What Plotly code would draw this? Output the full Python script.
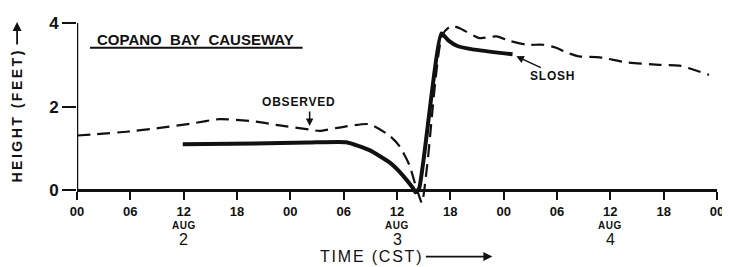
import plotly.graph_objects as go

# hours from Aug 2 00 CST
obs_t = [0, 5.6, 9.3, 13.0, 16.0, 19.8, 22.8, 26.2, 27.3, 29.5, 32.9, 35.2, 36.3, 37.4, 38.0, 38.4, 38.8,
         39.4, 41.1, 42.1, 43.0, 45.3, 47.2, 48.7, 50.6, 52.4, 53.9, 55.0, 56.5, 58.8, 61.8, 65.5, 67.8, 71.1]
obs_h = [1.31, 1.40, 1.49, 1.60, 1.70, 1.65, 1.55, 1.45, 1.42, 1.50, 1.58, 1.30, 1.05, 0.60, 0.18, -0.08, -0.30,
         0.60, 3.72, 3.93, 3.88, 3.64, 3.68, 3.57, 3.48, 3.48, 3.41, 3.30, 3.20, 3.18, 3.06, 3.00, 2.98, 2.76]

slosh_t = [11.9, 20, 26, 30.3, 32.9, 35.2, 36.6, 37.8, 38.1, 38.5, 41.0, 41.8, 42.8, 44.5, 49.0]
slosh_h = [1.10, 1.12, 1.14, 1.15, 0.96, 0.66, 0.37, 0.05, -0.05, 0.05, 3.75, 3.58, 3.45, 3.37, 3.25]

tick_vals = list(range(0, 73, 6))
tick_text = ["00", "06", "12", "18"] * 3 + ["00"]
day_t = [12, 36, 60]
day_labels = ["2", "3", "4"]

FONT = "Liberation Sans"
INK = "#111111"

# page -> paper helpers (plot area spans page x 77..718, y 14..207)
def px(p):
    return (p - 77) / 641.0

def py(p):
    return (207 - p) / 193.0

fig = go.Figure()
fig.add_trace(go.Scatter(x=obs_t, y=obs_h, mode="lines",
                         line=dict(color=INK, width=2.2, dash="13px,7px", shape="spline", smoothing=0.6),
                         hoverinfo="skip", showlegend=False))
fig.add_trace(go.Scatter(x=slosh_t, y=slosh_h, mode="lines",
                         line=dict(color=INK, width=4, shape="spline", smoothing=0.5),
                         hoverinfo="skip", showlegend=False))

fig.update_layout(
    width=722, height=259,
    margin=dict(l=69, r=12, t=6, b=60),
    paper_bgcolor="white", plot_bgcolor="white",
    font=dict(family=FONT, color=INK),
    xaxis=dict(range=[0, 72], tickvals=tick_vals, ticktext=tick_text, showgrid=False, zeroline=False,
               showline=True, linecolor=INK, linewidth=2.5, ticks="outside", ticklen=8, tickwidth=2,
               tickcolor=INK, anchor="free", position=0.4 / 4.4, ticklabeloverflow="allow",
               tickfont=dict(size=13, color=INK, weight="bold")),
    yaxis=dict(range=[-0.4, 4.0], tickvals=[0, 2, 4], ticktext=["0", "2", "4"], showgrid=False, zeroline=False,
               showline=False, ticks="outside", ticklen=14, tickwidth=2, tickcolor=INK,
               ticklabeloverflow="allow",
               tickfont=dict(size=17, color=INK, weight="bold")),
)

# y axis line from 0 to 4
fig.add_shape(type="line", xref="x", yref="y", x0=0, x1=0, y0=0, y1=4, line=dict(color=INK, width=2.5))


def label(x, y, text, size, bold=True, xref="paper", angle=0, spacing=0):
    if spacing:
        text = '<span style="letter-spacing:%gpx">%s</span>' % (spacing, text)
    fig.add_annotation(x=x, y=y, xref=xref, yref="paper", text=text, showarrow=False,
                       xanchor="center", yanchor="middle", textangle=angle,
                       font=dict(size=size, color=INK, weight="bold" if bold else "normal"))


def arrow(hx, hy, ax, ay, w=1.5):
    fig.add_annotation(x=px(hx), y=py(hy), xref="paper", yref="paper", text="", showarrow=True,
                       ax=ax, ay=ay, arrowhead=2, arrowsize=1, arrowwidth=w, arrowcolor=INK)


# title with underline
label(px(196), py(31), "COPANO  BAY  CAUSEWAY", 15)
fig.add_shape(type="line", xref="paper", yref="paper", x0=px(90), x1=px(303), y0=py(40), y1=py(40),
              line=dict(color=INK, width=2))

# date labels
for t, d in zip(day_t, day_labels):
    label(t, py(226), "AUG", 10, xref="x", spacing=0.5)
    label(t, py(241), d, 16, bold=False, xref="x")

# x title and arrow
label(px(372), py(259), "TIME (CST)", 16, bold=False, spacing=1.8)
arrow(493, 259, -68, 0, w=1.8)

# y title and arrow
label(px(17), py(111), "HEIGHT (FEET)", 14, angle=-90, spacing=2.5)
arrow(17, 13, 0, 24, w=1.8)

# series labels
label(px(299), py(97), "OBSERVED", 12, spacing=0.8)
arrow(310, 122, 0, -16)
label(px(553), py(70), "SLOSH", 12, spacing=0.8)
arrow(517, 49, 26, 12)

fig.write_html("out.html")
